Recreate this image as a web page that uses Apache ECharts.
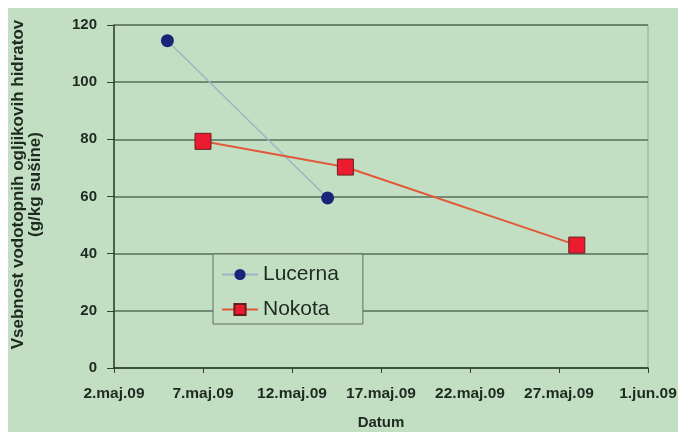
<!DOCTYPE html>
<html>
<head>
<meta charset="utf-8">
<script src="https://cdn.jsdelivr.net/npm/echarts@6/dist/echarts.min.js"></script>
<style>
  html, body { margin: 0; padding: 0; background: #ffffff; }
  #wrap { position: absolute; left: 8px; top: 8px; width: 670px; height: 424px; background: #c3dfc3; }
  #chart { position: absolute; left: -8px; top: -8px; width: 678px; height: 432px; }
</style>
</head>
<body>
<div id="wrap"><div id="chart"></div></div>
<script>
// Sampling dates and measured contents (g/kg dry matter)
const startDate = '2009-05-02';
const tickLabels = ['2.maj.09', '7.maj.09', '12.maj.09', '17.maj.09', '22.maj.09', '27.maj.09', '1.jun.09'];
const lucernaDates = ['2009-05-05', '2009-05-14'];
const lucernaValues = [114.5, 59.5];
const nokotaDates = ['2009-05-07', '2009-05-15', '2009-05-28'];
const nokotaValues = [79.3, 70.3, 43];
const yTitle = 'Vsebnost vodotopnih ogljikovih hidratov\n(g/kg sušine)';

const DAY = 86400000;
const dayOffset = d => (Date.parse(d) - Date.parse(startDate)) / DAY;
const pairs = (dates, vals) => dates.map((d, i) => [dayOffset(d), vals[i]]);

const chart = echarts.init(document.getElementById('chart'), null, { renderer: 'canvas' });
const font = '"Liberation Sans", Arial, sans-serif';
const gridCol = '#56705a';
const textCol = '#1e2a20';

chart.setOption({
  backgroundColor: 'transparent',
  animation: false,
  textStyle: { fontFamily: font },
  grid: {
    left: 114, right: 30, top: 25, bottom: 64,
    outerBoundsMode: 'none', containLabel: false,
    show: true, borderColor: '#8fa894', borderWidth: 1, backgroundColor: 'transparent'
  },
  legend: {
    orient: 'vertical',
    left: 213, top: 254,
    padding: [10, 24, 4, 8],
    itemWidth: 36, itemHeight: 14, itemGap: 14,
    backgroundColor: '#c3dfc3',
    borderColor: '#5e6e60', borderWidth: 1,
    textStyle: { fontSize: 21, color: textCol, fontFamily: font, padding: [0, 0, 0, 0] },
    data: ['Lucerna', 'Nokota']
  },
  xAxis: {
    type: 'value', min: 0, max: 30, interval: 5,
    name: 'Datum', nameLocation: 'middle', nameGap: 47,
    nameTextStyle: { fontSize: 15, fontWeight: 'bold', color: textCol },
    axisLine: { lineStyle: { color: '#2f3f30', width: 1.5 } },
    axisTick: { show: true, length: 5, lineStyle: { color: '#2f3f30', width: 1 } },
    splitLine: { show: false },
    axisLabel: {
      margin: 18, fontSize: 15.5, fontWeight: 'bold', color: textCol,
      formatter: v => tickLabels[Math.round(v / 5)] || ''
    }
  },
  yAxis: {
    type: 'value', min: 0, max: 120, interval: 20,
    name: yTitle, nameLocation: 'middle', nameGap: 70, nameRotate: 90,
    nameTextStyle: { fontSize: 17, fontWeight: 'bold', color: textCol, lineHeight: 17, padding: [0, 0, 0, 24] },
    axisLine: { show: true, lineStyle: { color: '#2f3f30', width: 1.5 } },
    axisTick: { show: true, length: 7, lineStyle: { color: '#2f3f30', width: 1 } },
    splitLine: { show: true, lineStyle: { color: gridCol, width: 1.5 } },
    axisLabel: { margin: 17, fontSize: 15, fontWeight: 'bold', color: textCol }
  },
  series: [
    {
      name: 'Lucerna', type: 'line',
      data: pairs(lucernaDates, lucernaValues),
      symbol: 'circle', symbolSize: 13,
      lineStyle: { color: '#9fb4c4', width: 1.5 },
      itemStyle: { color: '#1a2578', borderColor: '#1a2578', borderWidth: 0 },
      z: 3
    },
    {
      name: 'Nokota', type: 'line',
      data: pairs(nokotaDates, nokotaValues),
      symbol: 'rect', symbolSize: 16,
      lineStyle: { color: '#e2583a', width: 2 },
      itemStyle: { color: '#ec1c30', borderColor: '#6a1c1c', borderWidth: 1 },
      z: 4
    }
  ]
});
</script>
</body>
</html>
